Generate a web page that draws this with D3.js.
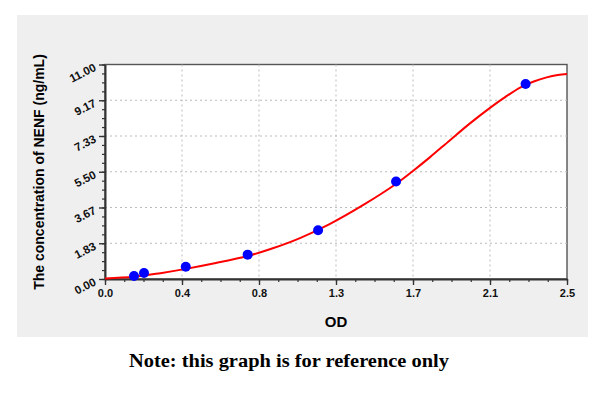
<!DOCTYPE html>
<html>
<head>
<meta charset="utf-8">
<script src="https://cdn.jsdelivr.net/npm/d3@7"></script>
<style>
  body { margin: 0; background: #fff; }
  svg { display: block; }
  .tick text { font-family: "Liberation Sans", Arial, sans-serif; font-weight: bold; }
</style>
</head>
<body>
<div id="chart"></div>
<script>
// Standard points (OD vs concentration)
const stdOD   = [0.157, 0.211, 0.437, 0.772, 1.153, 1.575, 2.276];
const stdConc = [0.156, 0.312, 0.625, 1.25, 2.5, 5, 10];

// Fitted curve
const curveOD   = [0.0, 0.157, 0.30, 0.437, 0.60, 0.772, 0.90, 1.055, 1.218, 1.398, 1.578, 1.668, 1.759, 1.867, 1.975, 2.087, 2.155, 2.246, 2.32, 2.39, 2.45, 2.5];
const curveConc = [0.03, 0.11, 0.30, 0.52, 0.82, 1.18, 1.55, 2.10, 2.83, 3.80, 4.90, 5.55, 6.25, 7.12, 7.98, 8.80, 9.26, 9.82, 10.13, 10.34, 10.46, 10.51];

// Tick labels
const xTickLabels = ["0.0", "0.4", "0.8", "1.3", "1.7", "2.1", "2.5"];
const yTickLabels = ["0.00", "1.83", "3.67", "5.50", "7.33", "9.17", "11.00"];

const W = 600, H = 393;
const margin = { top: 64.5, right: 33, bottom: 114, left: 105 },
      width = W - margin.left - margin.right,
      height = H - margin.top - margin.bottom;

const svg = d3.select("#chart").append("svg")
    .attr("width", W)
    .attr("height", H);

// gray panel
svg.append("rect")
    .attr("x", 17).attr("y", 15)
    .attr("width", 571).attr("height", 322)
    .attr("fill", "#efefef");

const g = svg.append("g")
    .attr("transform", `translate(${margin.left},${margin.top})`);

const x = d3.scaleLinear().domain([0, 2.5]).range([0, width]);
const y = d3.scaleLinear().domain([0, 11]).range([height, 0]);

const xMajor = xTickLabels.map((d, i) => i * 2.5 / 6);
const yMajor = yTickLabels.map((d, i) => i * 11 / 6);
const xMinor = d3.range(0, 25).map(i => i * 2.5 / 24);
const yMinor = d3.range(0, 25).map(i => i * 11 / 24);

g.append("rect")
    .attr("width", width).attr("height", height)
    .attr("fill", "#fff")
    .attr("stroke", "#555")
    .attr("stroke-width", 1.4);

// grid
g.append("g").selectAll("line")
    .data(xMajor.slice(1, -1))
    .join("line")
    .attr("x1", d => x(d)).attr("x2", d => x(d))
    .attr("y1", 0).attr("y2", height)
    .attr("stroke", "#bbb").attr("stroke-dasharray", "2,3");

g.append("g").selectAll("line")
    .data(yMajor.slice(1, -1))
    .join("line")
    .attr("y1", d => y(d)).attr("y2", d => y(d))
    .attr("x1", 0).attr("x2", width)
    .attr("stroke", "#bbb").attr("stroke-dasharray", "2,3");

// minor ticks
g.append("g")
    .attr("transform", `translate(0,${height})`)
    .call(d3.axisBottom(x).tickValues(xMinor).tickSize(3).tickFormat(""))
    .call(a => a.select(".domain").remove())
    .selectAll("line").attr("stroke", "#333").attr("stroke-width", 1.2);

g.append("g")
    .call(d3.axisLeft(y).tickValues(yMinor).tickSize(3).tickFormat(""))
    .call(a => a.select(".domain").remove())
    .selectAll("line").attr("stroke", "#333").attr("stroke-width", 1.2);

// major axes
const xAxis = g.append("g")
    .attr("transform", `translate(0,${height})`)
    .call(d3.axisBottom(x).tickValues(xMajor).tickSize(6).tickSizeOuter(0)
        .tickFormat((d, i) => xTickLabels[i]));
xAxis.select(".domain").attr("stroke", "#333").attr("stroke-width", 2);
xAxis.selectAll(".tick line").attr("stroke", "#333").attr("stroke-width", 1.4);
xAxis.selectAll(".tick text")
    .attr("font-size", 11).attr("fill", "#111").attr("y", 10);

const yAxis = g.append("g")
    .call(d3.axisLeft(y).tickValues(yMajor).tickSize(6).tickSizeOuter(0)
        .tickFormat((d, i) => yTickLabels[i]));
yAxis.select(".domain").attr("stroke", "#333").attr("stroke-width", 2);
yAxis.selectAll(".tick line").attr("stroke", "#333").attr("stroke-width", 1.4);
yAxis.selectAll(".tick text")
    .attr("font-size", 11.5).attr("fill", "#111")
    .attr("x", null).attr("dy", null)
    .attr("transform", "translate(-8,5) rotate(-27)");

// curve
const line = d3.line()
    .x(d => x(d[0]))
    .y(d => y(d[1]))
    .curve(d3.curveCatmullRom.alpha(0.5));

g.append("path")
    .datum(curveOD.map((d, i) => [d, curveConc[i]]))
    .attr("d", line)
    .attr("fill", "none")
    .attr("stroke", "#ff0000")
    .attr("stroke-width", 2);

// points
g.append("g").selectAll("circle")
    .data(stdOD.map((d, i) => [d, stdConc[i]]))
    .join("circle")
    .attr("cx", d => x(d[0]))
    .attr("cy", d => y(d[1]))
    .attr("r", 5)
    .attr("fill", "#0000ff");

// axis titles
svg.append("text")
    .attr("x", 336).attr("y", 327)
    .attr("text-anchor", "middle")
    .attr("font-family", "Liberation Sans, Arial, sans-serif")
    .attr("font-weight", "bold")
    .attr("font-size", 15)
    .text("OD");

svg.append("text")
    .attr("transform", "translate(44,172) rotate(-90)")
    .attr("text-anchor", "middle")
    .attr("font-family", "Liberation Sans, Arial, sans-serif")
    .attr("font-weight", "bold")
    .attr("font-size", 14)
    .text("The concentration of NENF (ng/mL)");

svg.append("text")
    .attr("x", 289).attr("y", 367)
    .attr("text-anchor", "middle")
    .attr("font-family", "Liberation Serif, serif")
    .attr("font-weight", "bold")
    .attr("font-size", 19)
    .attr("textLength", 320)
    .attr("lengthAdjust", "spacingAndGlyphs")
    .text("Note: this graph is for reference only");
</script>
</body>
</html>
